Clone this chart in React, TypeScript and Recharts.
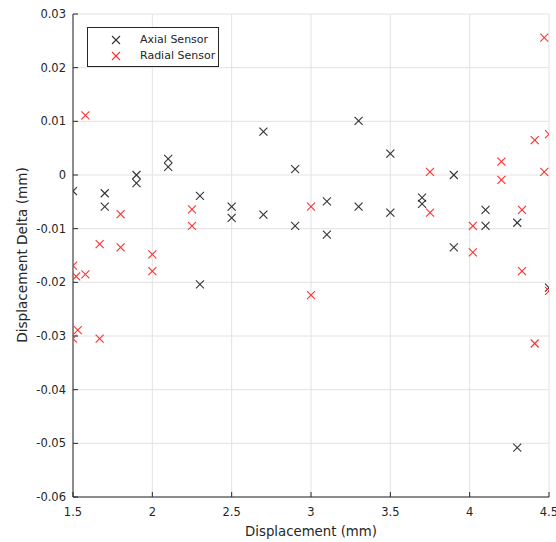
import React from 'react';
import { ScatterChart, Scatter, XAxis, YAxis, CartesianGrid, Legend } from 'recharts';

const axialX = [1.5, 1.7, 1.7, 1.9, 1.9, 2.1, 2.1, 2.3, 2.3, 2.5, 2.5, 2.7, 2.7, 2.9, 2.9, 3.1, 3.1, 3.3, 3.3, 3.5, 3.5, 3.7, 3.7, 3.9, 3.9, 4.1, 4.1, 4.3, 4.3, 4.5];
const axialY = [-0.003, -0.0034, -0.0059, 0.0, -0.0015, 0.003, 0.0015, -0.0039, -0.0204, -0.0059, -0.008, 0.0081, -0.0074, 0.0011, -0.0095, -0.0049, -0.0111, 0.0101, -0.0059, 0.004, -0.007, -0.0042, -0.0054, 0.0, -0.0135, -0.0065, -0.0095, -0.0089, -0.0508, -0.021];

const radialX = [1.5, 1.52, 1.578, 1.5, 1.53, 1.578, 1.668, 1.668, 1.8, 1.8, 2.0, 2.0, 2.25, 2.25, 3.0, 3.0, 3.75, 3.75, 4.02, 4.02, 4.2, 4.2, 4.33, 4.33, 4.41, 4.41, 4.47, 4.47, 4.5, 4.5];
const radialY = [-0.0169, -0.0189, -0.0185, -0.0305, -0.0289, 0.0111, -0.0129, -0.0305, -0.0073, -0.0135, -0.0148, -0.0179, -0.0064, -0.0095, -0.0059, -0.0224, 0.0006, -0.007, -0.0095, -0.0144, 0.0025, -0.0009, -0.0065, -0.0179, 0.0065, -0.0314, 0.0256, 0.0006, 0.0076, -0.0216];

const xTicks = [1.5, 2, 2.5, 3, 3.5, 4, 4.5];
const yTicks = [-0.06, -0.05, -0.04, -0.03, -0.02, -0.01, 0, 0.01, 0.02, 0.03];

const seriesNames = ['Axial Sensor', 'Radial Sensor'];
const seriesColors = ['#333333', '#ff3030'];

const axialData = axialX.map((x, i) => ({ x, y: axialY[i] }));
const radialData = radialX.map((x, i) => ({ x, y: radialY[i] }));

const FONT = '"DejaVu Sans", sans-serif';
const TEXT = '#262626';

const makeCross = (color: string) => (props: any) => {
  const { cx, cy } = props;
  if (cx == null || cy == null) return <g />;
  const r = 4;
  return (
    <g stroke={color} strokeWidth={1.1}>
      <line x1={cx - r} y1={cy - r} x2={cx + r} y2={cy + r} />
      <line x1={cx - r} y1={cy + r} x2={cx + r} y2={cy - r} />
    </g>
  );
};

const XTitle = () => (
  <text x={311} y={536} textAnchor="middle" fontFamily={FONT} fontSize={13.3} fill={TEXT}>
    Displacement (mm)
  </text>
);

const YTitle = () => (
  <text x={27} y={255} transform="rotate(-90 27 255)" textAnchor="middle" fontFamily={FONT} fontSize={13.6} fill={TEXT}>
    Displacement Delta (mm)
  </text>
);

const LegendBox = () => (
  <div
    style={{
      width: 132,
      height: 40,
      boxSizing: 'border-box',
      border: '1px solid #262626',
      background: '#fff',
      position: 'relative',
      fontFamily: FONT,
      fontSize: 11,
      color: TEXT,
    }}
  >
    {seriesNames.map((name, i) => (
      <div key={name} style={{ position: 'absolute', left: 0, top: 4 + i * 16, height: 16, width: '100%' }}>
        <svg width={12} height={12} style={{ position: 'absolute', left: 22, top: 2 }}>
          <g stroke={seriesColors[i]} strokeWidth={1.1}>
            <line x1={2} y1={2} x2={10} y2={10} />
            <line x1={2} y1={10} x2={10} y2={2} />
          </g>
        </svg>
        <span style={{ position: 'absolute', left: 52, top: 0, lineHeight: '16px', whiteSpace: 'nowrap' }}>{name}</span>
      </div>
    ))}
  </div>
);

const fmtY = (v: number) => (Math.abs(v) < 1e-9 ? '0' : String(Number(v.toFixed(2))));

export default function App() {
  return (
    <div style={{ position: 'absolute', left: 0, top: 0, width: 556, height: 542, background: '#fff' }}>
      <ScatterChart width={556} height={542} margin={{ top: 14, right: 7, bottom: 0, left: 0 }}>
        <CartesianGrid stroke="#e2e2e2" strokeWidth={1} />
        <XAxis
          type="number"
          dataKey="x"
          domain={[1.5, 4.5]}
          ticks={xTicks}
          allowDataOverflow
          height={45}
          stroke="#262626"
          tickSize={-5}
          tickMargin={16}
          tick={{ fontFamily: FONT, fontSize: 11.5, fill: TEXT }}
          label={<XTitle />}
        />
        <YAxis
          type="number"
          dataKey="y"
          domain={[-0.06, 0.03]}
          ticks={yTicks}
          allowDataOverflow
          width={73}
          stroke="#262626"
          tickSize={-5}
          tickMargin={12}
          tickFormatter={fmtY}
          tick={{ fontFamily: FONT, fontSize: 11.5, fill: TEXT }}
          label={<YTitle />}
        />
        <Legend
          layout="horizontal"
          verticalAlign="middle"
          align="center"
          wrapperStyle={{ left: 87, top: 27, width: 132, height: 40 }}
          content={() => <LegendBox />}
        />
        <Scatter name={seriesNames[0]} data={axialData} shape={makeCross(seriesColors[0])} isAnimationActive={false} />
        <Scatter name={seriesNames[1]} data={radialData} shape={makeCross(seriesColors[1])} isAnimationActive={false} />
      </ScatterChart>
    </div>
  );
}
